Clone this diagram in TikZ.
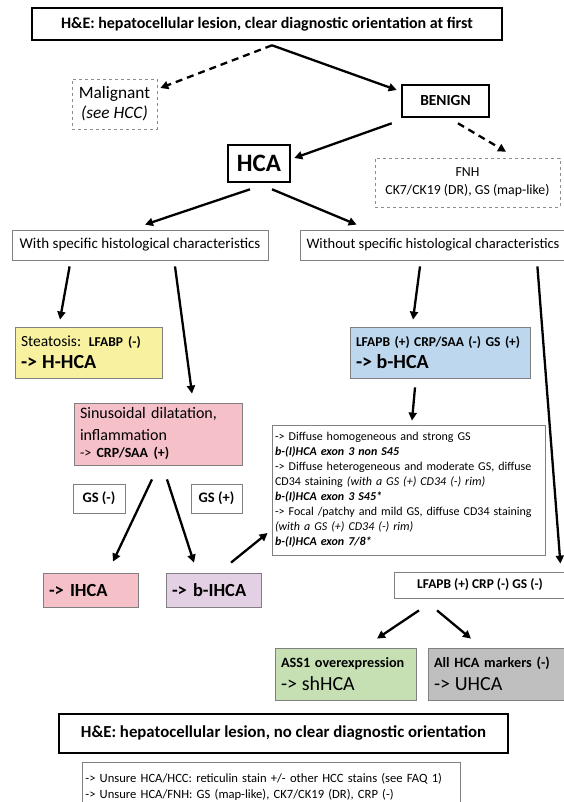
\documentclass[tikz,border=0pt]{standalone}
\usepackage{fontspec}
\setmainfont{Carlito}
\usepackage{tikz}
\usetikzlibrary{arrows.meta,calc}

\definecolor{hcaYellow}{HTML}{F8F1A0}
\definecolor{hcaPink}{HTML}{F5C0C8}
\definecolor{hcaLilac}{HTML}{E3D0E4}
\definecolor{hcaBlue}{HTML}{BDD7EE}
\definecolor{hcaGreen}{HTML}{C6E0B4}
\definecolor{hcaGrey}{HTML}{BFBFBF}
\definecolor{boxline}{HTML}{808080}

\newcommand{\fsz}[2]{\fontsize{#1}{#2}\selectfont}

\begin{document}
\begin{tikzpicture}[x=1pt, y=-1pt,
    thickbox/.style={draw=black, line width=2.6pt, inner sep=0pt, font=\fsz{16}{19}\bfseries},
    thinbox/.style={draw=boxline, line width=0.8pt, inner sep=3pt},
    dashbox/.style={draw=black!45, dashed, line width=0.6pt, align=center},
    leftbox/.style={thinbox, align=left, inner xsep=6pt},
    arr/.style={line width=2.3pt, -{Triangle[length=8pt,width=8pt]}},
    darr/.style={arr, dash pattern=on 7pt off 5pt}]

    \useasboundingbox (0,0) rectangle (563,802);

    % 1. Bagian atas: H&E, malignant, benign
    \node[thickbox, minimum width=470pt, minimum height=32pt] (top) at (267,24)
        {H\&E: hepatocellular lesion, clear diagnostic orientation at first};
    \node[dashbox, minimum width=85pt, minimum height=50pt, font=\fsz{17.3}{20}] (malig) at (114.5,104)
        {Malignant\\\textit{(see HCC)}};
    \node[thickbox, minimum width=87pt, minimum height=32pt, font=\fsz{15.4}{19}\bfseries] (benign) at (445.5,101) {BENIGN};

    % 2. HCA dan FNH
    \node[thickbox, minimum width=62pt, minimum height=37pt, font=\fsz{25}{28}\bfseries] (hca) at (259,163.5) {HCA};
    \node[dashbox, minimum width=185pt, minimum height=49pt, font=\fsz{13.8}{18}] (fnh) at (467.5,182.5)
        {FNH\\CK7/CK19 (DR), GS (map-like)};

    % 3. Dua cabang karakteristik
    \node[thinbox, minimum width=256pt, minimum height=30pt, font=\fsz{15}{18}] (with) at (140,245)
        {With specific histological characteristics};
    \node[thinbox, minimum width=266pt, minimum height=30pt, font=\fsz{14.5}{18}] (without) at (433,245)
        {Without specific histological characteristics};

    % 4. Subtipe HCA
    \node[leftbox, fill=hcaYellow, text width=135pt, minimum height=51pt, font=\fsz{15.5}{22}] (steat) at (88.5,352.5)
        {Steatosis: {\fontsize{13.5}{22}\selectfont\bfseries LFABP (-)}\\\fontsize{20}{22}\selectfont\bfseries -> H-HCA};
    \node[leftbox, fill=hcaBlue, inner xsep=4pt, text width=172pt, minimum height=51pt, font=\fsz{13.5}{22}\bfseries] (bhca) at (440,352.5)
        {\hspace*{2pt}LFAPB (+) CRP/SAA (-) GS (+)\\\fontsize{20}{22}\selectfont\hspace*{2pt}-> b-HCA};
    \node[leftbox, fill=hcaPink, text width=156pt, minimum height=62pt, font=\fsz{16}{17}] (sinus) at (158,434)
        {Sinusoidal dilatation,\\[5pt]inflammation\\\fontsize{14}{17}\selectfont -> \textbf{CRP/SAA (+)}};
    \node[thinbox, minimum width=52pt, minimum height=29pt, font=\fsz{14.5}{17}\bfseries] (gsneg) at (99,498.5) {GS (-)};
    \node[thinbox, minimum width=51pt, minimum height=29pt, font=\fsz{14.5}{17}\bfseries] (gspos) at (216.5,498.5) {GS (+)};
    \node[leftbox, fill=hcaPink, text width=83pt, minimum height=34pt, font=\fsz{18.5}{22}\bfseries] (ihca) at (90.5,590) {-> IHCA};
    \node[leftbox, fill=hcaLilac, text width=83pt, minimum height=34pt, font=\fsz{18.5}{22}\bfseries] (bihca) at (213.5,590) {-> b-IHCA};

    % 5. Kotak keterangan GS / CD34
    \node[thinbox, align=left, inner xsep=3pt, text width=267pt, minimum height=130pt, font=\fsz{12}{15}] (gsinfo) at (408.5,490)
        {-> Diffuse homogeneous and strong GS\\
         \textbf{\textit{b-(I)HCA exon 3 non S45}}\\
         -> Diffuse heterogeneous and moderate GS, diffuse\\
         CD34 staining \textit{(with a GS (+) CD34 (-) rim)}\\
         \textbf{\textit{b-(I)HCA exon 3 S45*}}\\
         -> Focal /patchy and mild GS, diffuse CD34 staining\\
         \textit{(with a GS (+) CD34 (-) rim)}\\
         \textbf{\textit{b-(I)HCA exon 7/8*}}};

    % 6. Cabang tanpa karakteristik
    \node[thinbox, minimum width=172pt, minimum height=26pt, font=\fsz{13.4}{17}\bfseries] (noinfl) at (480,585)
        {LFAPB (+) CRP (-) GS (-)};
    \node[leftbox, fill=hcaGreen, text width=129pt, minimum height=52pt, font=\fsz{14.2}{23}\bfseries] (shhca) at (345.5,674)
        {ASS1 overexpression\\\fontsize{20}{23}\selectfont\mdseries -> shHCA};
    \node[leftbox, fill=hcaGrey, text width=126pt, minimum height=52pt, font=\fsz{14.2}{23}\bfseries] (uhca) at (497,674)
        {All HCA markers (-)\\\fontsize{20}{23}\selectfont\mdseries -> UHCA};

    % 7. Bagian bawah
    \node[thickbox, minimum width=449pt, minimum height=39pt, font=\fsz{16.8}{20}\bfseries] (bottom) at (283.5,733.5)
        {H\&E: hepatocellular lesion, no clear diagnostic orientation};
    \node[thinbox, align=left, anchor=north west, inner xsep=3pt, text width=372pt, minimum height=48pt, font=\fsz{12.6}{16}] (unsure) at (82,762)
        {-> Unsure HCA/HCC: reticulin stain +/- other HCC stains (see FAQ 1)\\
         -> Unsure HCA/FNH: GS (map-like), CK7/CK19 (DR), CRP (-)};

    % 8. Panah
    \draw[darr] ($(top.south)+(5,4)$) -- ($(malig.east)+(3,-16)$);
    \draw[arr] ($(top.south)+(5,4)$) -- ($(benign.west)+(-4,-11)$);
    \draw[arr] ($(benign.south west)+(-9,5)$) -- ($(hca.east)+(3,-5.5)$);
    \draw[darr] ($(benign.south)+(12.5,5)$) -- ($(fnh.north)+(38.5,-6)$);
    \draw[arr] ($(hca.south)+(-9,6)$) -- ($(with.north)+(5,-5)$);
    \draw[arr] ($(hca.south)+(13,6)$) -- ($(without.north west)+(57,-5)$);
    \draw[arr] ($(with.south west)+(58,6)$) -- ($(steat.north)+(-28.5,-7)$);
    \draw[arr] ($(with.south)+(35,6)$) -- ($(sinus.north)+(34,-9)$);
    \draw[arr] ($(without.south)+(-13,6)$) -- ($(bhca.north)+(-27,-7)$);
    \draw[arr] ($(without.south east)+(-29,6)$) -- ($(noinfl.north east)+(-6,-8)$);
    \draw[arr] ($(bhca.south)+(-25,9)$) -- ($(gsinfo.north)+(3.5,-4)$);
    \draw[arr] ($(sinus.south)+(-6,14)$) -- ($(ihca.north)+(22.5,-11)$);
    \draw[arr] ($(sinus.south)+(9,14)$) -- ($(bihca.north)+(-19.5,-10)$);
    \draw[arr] ($(bihca.north)+(17.5,-10)$) -- ($(gsinfo.west)+(-4,43)$);
    \draw[arr] ($(noinfl.south)+(-61,12)$) -- ($(shhca.north)+(31.5,-9)$);
    \draw[arr] ($(noinfl.south)+(-43,12)$) -- ($(uhca.north)+(-26,-9)$);

\end{tikzpicture}
\end{document}
